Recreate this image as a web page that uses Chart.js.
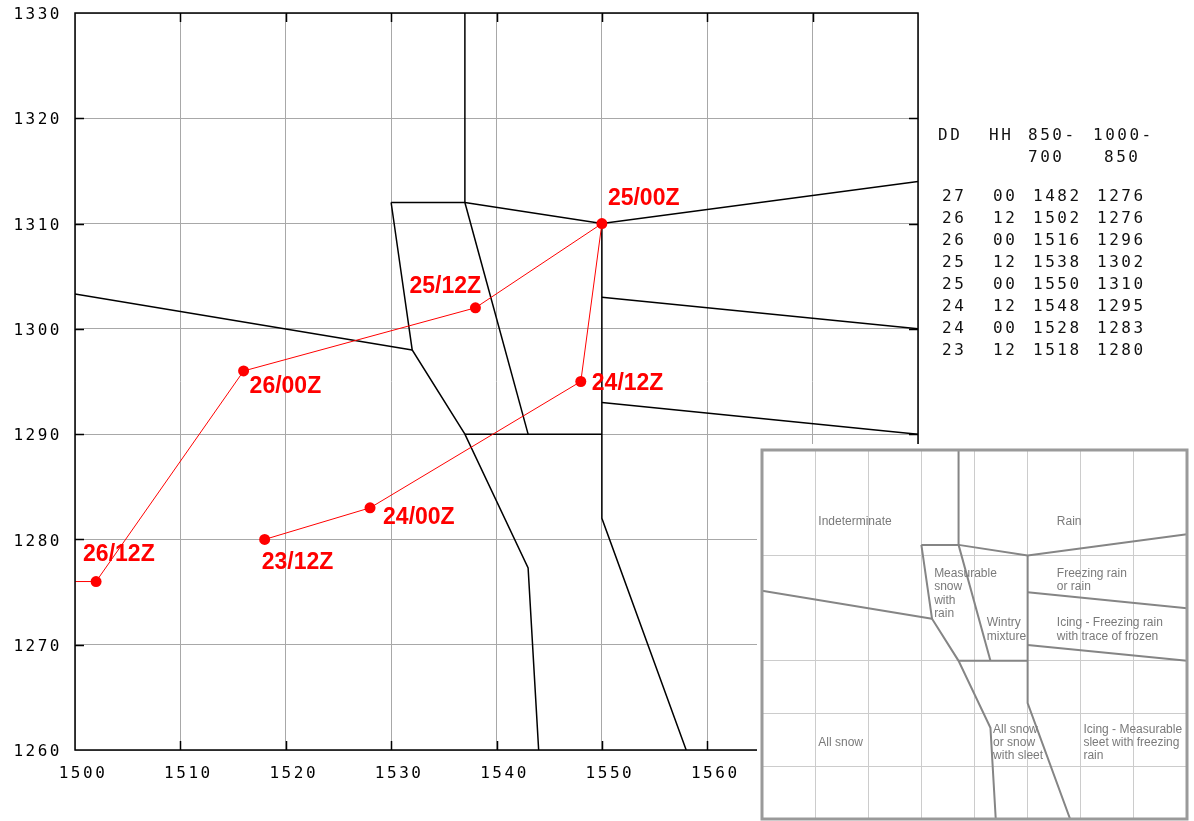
<!DOCTYPE html>
<html>
<head>
<meta charset="utf-8">
<script src="https://cdn.jsdelivr.net/npm/chart.js@4/dist/chart.umd.min.js"></script>
<style>
  html, body { margin: 0; padding: 0; background: #fff; }
  #wrap { position: relative; width: 1194px; height: 821px; overflow: hidden; }
  #main { position: absolute; left: 0; top: 0; width: 1194px; height: 821px; }
  #inset { position: absolute; left: 757px; top: 444px; width: 437px; height: 377px; background: #fff; }
  #table { position: absolute; left: 0; top: 0; font: 16px "DejaVu Sans Mono", monospace; letter-spacing: 2.5px; color: #111; }
  #table div { position: absolute; line-height: 16px; white-space: pre; }
</style>
</head>
<body>
<div id="wrap">
  <canvas id="main" width="1194" height="821"></canvas>
  <div id="table"></div>
  <canvas id="inset" width="437" height="377"></canvas>
</div>
<script>
// --- sounding table (also the red track) ---
const days = ["27", "26", "26", "25", "25", "24", "24", "23"];
const hours = ["00", "12", "00", "12", "00", "12", "00", "12"];
const thick850 = [1482, 1502, 1516, 1538, 1550, 1548, 1528, 1518];   // 850-700 mb
const thick1000 = [1276, 1276, 1296, 1302, 1310, 1295, 1283, 1280];  // 1000-850 mb

// --- precip type boundaries (850-700, 1000-850) ---
const lineTopVert = [[1537, 1330], [1537, 1312]];
const lineTopShelf = [[1530, 1312], [1537, 1312], [1550, 1310], [1580, 1314]];
const lineSnowLeft = [[1500, 1303.3], [1532, 1298]];
const lineSnowEdge = [[1530, 1312], [1532, 1298], [1537, 1290], [1543, 1277.3], [1544, 1260]];
const lineMix = [[1537, 1312], [1543, 1290]];
const line1290 = [[1537, 1290], [1550, 1290]];
const line1550 = [[1550, 1310], [1550, 1282], [1558, 1260]];
const lineFzRain = [[1550, 1303], [1580, 1300]];
const lineIcing = [[1550, 1293], [1580, 1290]];

const xTicks = [1500, 1510, 1520, 1530, 1540, 1550, 1560, 1570, 1580];
const yTicks = [1260, 1270, 1280, 1290, 1300, 1310, 1320, 1330];

// region names in the small key chart
const regionNames = [
  { lines: ["Indeterminate"], x: 1510.6, y: 1316.4 },
  { lines: ["Rain"], x: 1555.5, y: 1316.4 },
  { lines: ["Measurable", "snow", "with", "rain"], x: 1532.4, y: 1306.5 },
  { lines: ["Freezing rain", "or rain"], x: 1555.5, y: 1306.5 },
  { lines: ["Wintry", "mixture"], x: 1542.3, y: 1297.2 },
  { lines: ["Icing - Freezing rain", "with trace of frozen"], x: 1555.5, y: 1297.2 },
  { lines: ["All snow"], x: 1510.6, y: 1274.5 },
  { lines: ["All snow", "or snow", "with sleet"], x: 1543.5, y: 1277 },
  { lines: ["Icing - Measurable", "sleet with freezing", "rain"], x: 1560.5, y: 1277 },
];

// label offsets for the red stamps (px: left edge, middle)
const stampOffsets = {
  "26/12Z": [-13, -27],
  "26/00Z": [6, 16],
  "25/12Z": [-66, -21],
  "25/00Z": [6, -25],
  "24/12Z": [11, 2],
  "24/00Z": [13, 10],
  "23/12Z": [-3, 23],
};

const boundaries = [lineTopVert, lineTopShelf, lineSnowLeft, lineSnowEdge, lineMix, line1290, line1550, lineFzRain, lineIcing];
const toPts = (arr) => arr.map(([x, y]) => ({ x, y }));
const track = thick850.map((x, i) => ({ x, y: thick1000[i] }));
const stamps = days.map((d, i) => `${d}/${hours[i]}Z`);

// === table on the right ===
const table = document.getElementById("table");
function cell(text, left, mid) {
  const div = document.createElement("div");
  div.textContent = text;
  div.style.left = left + "px";
  div.style.top = (mid - 8) + "px";
  table.appendChild(div);
}
cell("DD", 938, 135);
cell("HH", 989, 135);
cell("850-", 1028, 135);
cell("1000-", 1093, 135);
cell("700", 1028, 157);
cell("850", 1104, 157);
days.forEach((d, i) => {
  const mid = 196 + i * 22;
  cell(d, 942, mid);
  cell(hours[i], 993, mid);
  cell(String(thick850[i]), 1033, mid);
  cell(String(thick1000[i]), 1097, mid);
});

// === plugins ===
const spacing = {
  id: "spacing",
  beforeDraw(chart) { chart.ctx.letterSpacing = "2.5px"; },
  beforeDatasetsDraw(chart) { chart.ctx.letterSpacing = "0px"; },
};

const frame = {
  id: "frame",
  afterDraw(chart) {
    const { ctx, chartArea: a, scales } = chart;
    ctx.save();
    ctx.strokeStyle = "#000";
    ctx.lineWidth = 1.5;
    ctx.strokeRect(a.left, a.top, a.right - a.left, a.bottom - a.top);
    const len = 9;
    ctx.beginPath();
    xTicks.slice(1, -1).forEach((v) => {
      const px = Math.round(scales.x.getPixelForValue(v)) + 0.5;
      ctx.moveTo(px, a.bottom); ctx.lineTo(px, a.bottom - len);
      ctx.moveTo(px, a.top); ctx.lineTo(px, a.top + len);
    });
    yTicks.slice(1, -1).forEach((v) => {
      const py = Math.round(scales.y.getPixelForValue(v)) + 0.5;
      ctx.moveTo(a.left, py); ctx.lineTo(a.left + len, py);
      ctx.moveTo(a.right, py); ctx.lineTo(a.right - len, py);
    });
    ctx.stroke();
    ctx.restore();
  },
};

const stampLabels = {
  id: "stampLabels",
  afterDatasetsDraw(chart) {
    const { ctx } = chart;
    const meta = chart.getDatasetMeta(0);
    ctx.save();
    ctx.letterSpacing = "0px";
    ctx.font = 'bold 23px "Liberation Sans", Arial, sans-serif';
    ctx.fillStyle = "#ff0000";
    ctx.textAlign = "left";
    ctx.textBaseline = "middle";
    meta.data.forEach((pt, i) => {
      const off = stampOffsets[stamps[i]];
      if (!off) return;
      ctx.fillText(stamps[i], pt.x + off[0], pt.y + off[1]);
    });
    ctx.restore();
  },
};

// === main chart ===
new Chart(document.getElementById("main"), {
  type: "scatter",
  data: {
    datasets: [
      {
        data: track,
        showLine: true,
        borderColor: "#ff0000",
        borderWidth: 1,
        pointRadius: 5.5,
        pointHoverRadius: 5.5,
        pointBackgroundColor: "#ff0000",
        pointBorderWidth: 0,
      },
      ...boundaries.map((b) => ({
        data: toPts(b),
        showLine: true,
        borderColor: "#000",
        borderWidth: 1.5,
        pointRadius: 0,
        pointHoverRadius: 0,
      })),
    ],
  },
  options: {
    responsive: false,
    animation: false,
    devicePixelRatio: 1,
    events: [],
    layout: { padding: { left: 0, top: 13, right: 276, bottom: 0 } },
    plugins: { legend: { display: false }, tooltip: { enabled: false } },
    scales: {
      x: {
        type: "linear",
        min: 1500,
        max: 1580,
        border: { display: false },
        grid: { color: "#a8a8a8", lineWidth: 1, drawTicks: false },
        afterBuildTicks: (s) => { s.ticks = xTicks.map((v) => ({ value: v })); },
        ticks: {
          autoSkip: false,
          maxRotation: 0,
          padding: 14,
          labelOffset: 8,
          color: "#000",
          font: { family: "DejaVu Sans Mono", size: 16 },
          callback: (v) => String(v),
        },
        afterFit: (s) => { s.height = 71; s.paddingLeft = 0; s.paddingRight = 0; },
      },
      y: {
        type: "linear",
        min: 1260,
        max: 1330,
        border: { display: false },
        grid: { color: "#a8a8a8", lineWidth: 1, drawTicks: false },
        afterBuildTicks: (s) => { s.ticks = yTicks.map((v) => ({ value: v })); },
        ticks: {
          autoSkip: false,
          padding: 13,
          labelOffset: 2,
          color: "#000",
          font: { family: "DejaVu Sans Mono", size: 16 },
          callback: (v) => String(v),
        },
        afterFit: (s) => { s.width = 75; s.paddingTop = 0; s.paddingBottom = 0; },
      },
    },
  },
  plugins: [spacing, frame, stampLabels],
});

// === small key chart (lower right) ===
const insetFrame = {
  id: "insetFrame",
  afterDraw(chart) {
    const { ctx, chartArea: a } = chart;
    ctx.save();
    ctx.strokeStyle = "#9a9a9a";
    ctx.lineWidth = 3;
    ctx.strokeRect(a.left, a.top, a.right - a.left, a.bottom - a.top);
    ctx.restore();
  },
};

const regionText = {
  id: "regionText",
  afterDatasetsDraw(chart) {
    const { ctx, scales } = chart;
    ctx.save();
    ctx.font = '12px "Liberation Sans", Arial, sans-serif';
    ctx.fillStyle = "#7a7a7a";
    ctx.textAlign = "left";
    ctx.textBaseline = "middle";
    regionNames.forEach((r) => {
      const x = scales.x.getPixelForValue(r.x);
      const y = scales.y.getPixelForValue(r.y);
      r.lines.forEach((t, k) => ctx.fillText(t, x, y + k * 13.3));
    });
    ctx.restore();
  },
};

new Chart(document.getElementById("inset"), {
  type: "scatter",
  data: {
    datasets: boundaries.map((b) => ({
      data: toPts(b),
      showLine: true,
      borderColor: "#858585",
      borderWidth: 2,
      pointRadius: 0,
      pointHoverRadius: 0,
    })),
  },
  options: {
    responsive: false,
    animation: false,
    devicePixelRatio: 1,
    events: [],
    layout: { padding: { left: 5, top: 6, right: 7, bottom: 2 } },
    plugins: { legend: { display: false }, tooltip: { enabled: false } },
    scales: {
      x: {
        type: "linear",
        min: 1500,
        max: 1580,
        border: { display: false },
        grid: { color: "#cccccc", drawTicks: false },
        afterBuildTicks: (s) => { s.ticks = xTicks.map((v) => ({ value: v })); },
        ticks: { display: false },
        afterFit: (s) => { s.height = 0; },
      },
      y: {
        type: "linear",
        min: 1260,
        max: 1330,
        border: { display: false },
        grid: {
          color: (c) => (c.tick && (c.tick.value === 1320 || c.tick.value === 1300) ? "rgba(0,0,0,0)" : "#cccccc"),
          drawTicks: false,
        },
        afterBuildTicks: (s) => { s.ticks = yTicks.map((v) => ({ value: v })); },
        ticks: { display: false },
        afterFit: (s) => { s.width = 0; },
      },
    },
  },
  plugins: [insetFrame, regionText],
});
</script>
</body>
</html>
